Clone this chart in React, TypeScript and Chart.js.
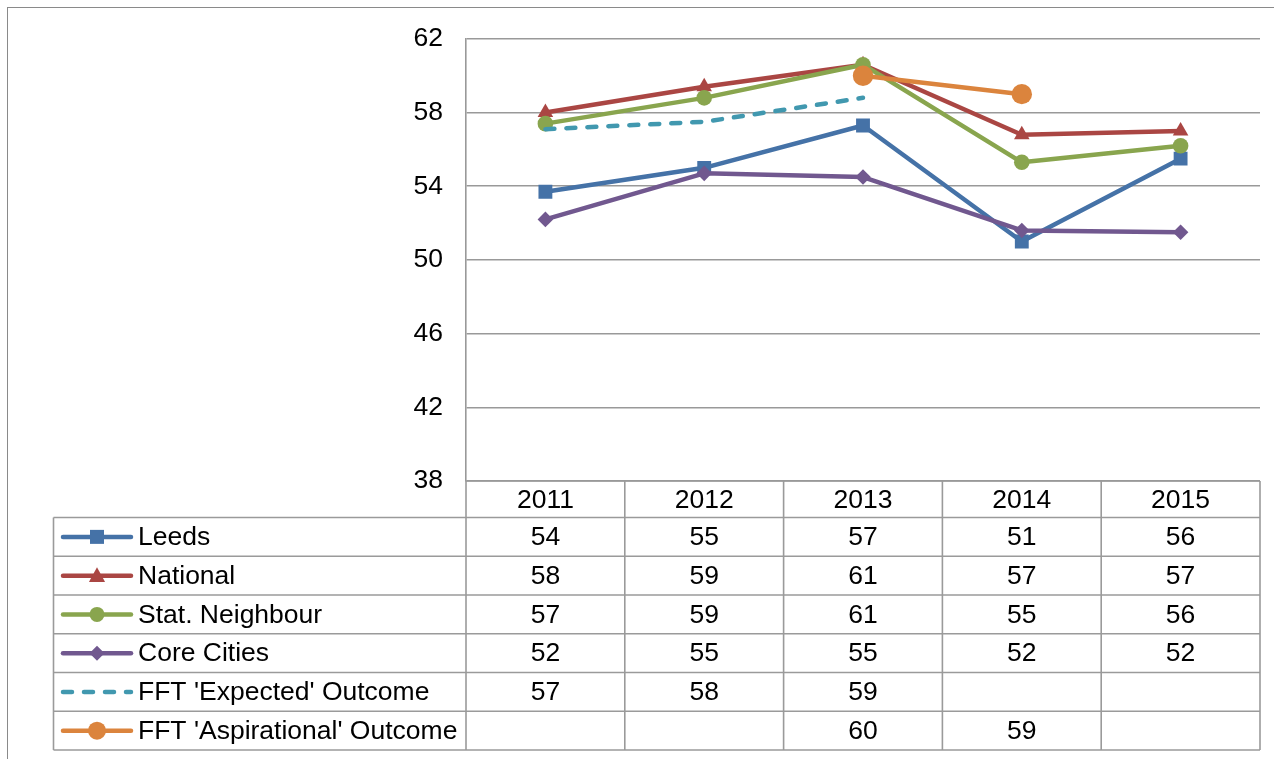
import React, { useEffect, useRef } from 'react';
import { Chart, registerables } from 'chart.js';

Chart.register(...registerables);

const years = ['2011', '2012', '2013', '2014', '2015'];
const leeds = [53.7, 55.0, 57.3, 51.0, 55.5];
const national = [58.0, 59.4, 60.6, 56.8, 57.0];
const statNeighbour = [57.4, 58.8, 60.6, 55.3, 56.2];
const coreCities = [52.2, 54.7, 54.5, 51.6, 51.5];
const fftExpected = [57.1, 57.5, 58.8, null, null];
const fftAspirational = [null, null, 60.0, 59.0, null];

const yMin = 38;
const yMax = 62;
const yStep = 4;

const seriesNames = [
  'Leeds',
  'National',
  'Stat. Neighbour',
  'Core Cities',
  "FFT 'Expected' Outcome",
  "FFT 'Aspirational' Outcome",
];
const seriesData = [leeds, national, statNeighbour, coreCities, fftExpected, fftAspirational];
const seriesColors = ['#4572A7', '#AA4643', '#89A54E', '#71588F', '#4198AF', '#DB843D'];
const seriesMarkers = ['rect', 'triangle', 'circle', 'rectRot', 'none', 'circle'];
const markerRadius = [9.8, 9, 7.8, 7.8, 0, 10.2];
const seriesDashed = [false, false, false, false, true, false];

const FONT = "'Liberation Sans', Arial, sans-serif";
const FONT_SIZE = 26.5;

function drawMarker(ctx: CanvasRenderingContext2D, kind: string, x: number, y: number, r: number, color: string) {
  ctx.save();
  ctx.fillStyle = color;
  ctx.beginPath();
  if (kind === 'rect') {
    ctx.rect(x - r, y - r, 2 * r, 2 * r);
  } else if (kind === 'triangle') {
    ctx.moveTo(x, y - r);
    ctx.lineTo(x + r * 0.95, y + r * 0.75);
    ctx.lineTo(x - r * 0.95, y + r * 0.75);
    ctx.closePath();
  } else if (kind === 'circle') {
    ctx.arc(x, y, r, 0, Math.PI * 2);
  } else if (kind === 'rectRot') {
    ctx.moveTo(x, y - r);
    ctx.lineTo(x + r, y);
    ctx.lineTo(x, y + r);
    ctx.lineTo(x - r, y);
    ctx.closePath();
  }
  ctx.fill();
  ctx.restore();
}

const frameAndTable = {
  id: 'frameAndTable',
  beforeDraw(chart: any) {
    const ctx = chart.ctx as CanvasRenderingContext2D;
    ctx.save();
    ctx.fillStyle = '#ffffff';
    ctx.fillRect(0, 0, chart.width, chart.height);
    ctx.strokeStyle = '#8a8a8a';
    ctx.lineWidth = 1;
    ctx.strokeRect(7.5, 7.5, chart.width + 20, chart.height + 20);
    ctx.restore();
  },
  afterDraw(chart: any) {
    const ctx = chart.ctx as CanvasRenderingContext2D;
    const area = chart.chartArea;
    const xs = chart.scales.x;
    const colW = (area.right - area.left) / years.length;
    const top = area.bottom;
    const headerBottom = top + 36.5;
    const rowH = 38.75;
    const tableLeft = 53.5;
    const nRows = seriesNames.length;
    const bottom = headerBottom + rowH * nRows;

    ctx.save();
    ctx.strokeStyle = '#9a9a9a';
    ctx.lineWidth = 1.6;
    const line = (x1: number, y1: number, x2: number, y2: number) => {
      ctx.beginPath();
      ctx.moveTo(x1, y1);
      ctx.lineTo(x2, y2);
      ctx.stroke();
    };
    line(area.left, top, area.right, top);
    for (let i = 0; i <= nRows; i++) {
      const yy = headerBottom + i * rowH;
      line(tableLeft, yy, area.right, yy);
    }
    line(tableLeft, headerBottom, tableLeft, bottom);
    for (let k = 0; k <= years.length; k++) {
      const xx = area.left + k * colW;
      line(xx, top, xx, bottom);
    }

    ctx.fillStyle = '#000000';
    ctx.font = `${FONT_SIZE}px ${FONT}`;
    ctx.textAlign = 'center';
    ctx.textBaseline = 'middle';
    years.forEach((yr, k) => {
      ctx.fillText(yr, xs.getPixelForValue(k), (top + headerBottom) / 2 + 1);
    });

    seriesNames.forEach((name, i) => {
      const cy = headerBottom + rowH * (i + 0.5) + 1;
      const data = seriesData[i];
      ctx.textAlign = 'center';
      ctx.fillStyle = '#000000';
      data.forEach((v, k) => {
        if (v !== null && v !== undefined) {
          ctx.fillText(String(Math.round(v as number)), xs.getPixelForValue(k), cy);
        }
      });
      const color = seriesColors[i];
      ctx.save();
      ctx.strokeStyle = color;
      ctx.lineWidth = 4.5;
      ctx.lineCap = 'round';
      if (seriesDashed[i]) ctx.setLineDash([9, 12]);
      ctx.beginPath();
      ctx.moveTo(63, cy - 1);
      ctx.lineTo(131, cy - 1);
      ctx.stroke();
      ctx.restore();
      if (seriesMarkers[i] !== 'none') {
        const kind = seriesMarkers[i];
        const r = kind === 'rect' ? 7 : kind === 'triangle' ? 8.5 : i === 5 ? 9 : 7.5;
        drawMarker(ctx, kind, 97, cy - 1, r, color);
      }
      ctx.textAlign = 'left';
      ctx.fillStyle = '#000000';
      ctx.fillText(name, 138, cy);
    });
    ctx.restore();
  },
};

export default function App() {
  const canvasRef = useRef<HTMLCanvasElement | null>(null);

  useEffect(() => {
    if (!canvasRef.current) return;
    const datasets = seriesNames.map((name, i) => ({
      label: name,
      data: seriesData[i],
      borderColor: seriesColors[i],
      backgroundColor: seriesColors[i],
      borderWidth: 4.5,
      borderDash: seriesDashed[i] ? [9, 12] : [],
      borderCapStyle: 'round',
      borderJoinStyle: 'round',
      pointStyle: seriesMarkers[i] === 'none' ? 'circle' : seriesMarkers[i],
      pointRadius: markerRadius[i],
      pointHoverRadius: markerRadius[i],
      pointBorderWidth: 0,
      pointBackgroundColor: seriesColors[i],
      pointBorderColor: seriesColors[i],
      spanGaps: false,
      tension: 0,
      order: seriesNames.length - i,
      fill: false,
    }));

    const chart = new Chart(canvasRef.current, {
      type: 'line',
      data: { labels: years, datasets: datasets as any },
      options: {
        responsive: false,
        animation: false,
        devicePixelRatio: 1,
        layout: { padding: { left: 0, top: 36, right: 14, bottom: 278 } },
        plugins: {
          legend: { display: false },
          tooltip: { enabled: false },
          title: { display: false },
        },
        scales: {
          x: {
            type: 'category',
            display: false,
            offset: true,
          },
          y: {
            min: yMin,
            max: yMax,
            afterFit: (scale: any) => {
              scale.width = 466;
            },
            ticks: {
              stepSize: yStep,
              padding: 23,
              color: '#000000',
              font: { family: FONT, size: FONT_SIZE },
            },
            grid: {
              color: '#999999',
              lineWidth: 1.6,
              drawTicks: false,
            },
            border: { display: true, color: '#999999', width: 1.6 },
          },
        },
      },
      plugins: [frameAndTable],
    });
    return () => chart.destroy();
  }, []);

  return (
    <div style={{ position: 'absolute', left: 0, top: 0, width: 1274, height: 759 }}>
      <canvas ref={canvasRef} width={1274} height={759} style={{ display: 'block' }} />
    </div>
  );
}
